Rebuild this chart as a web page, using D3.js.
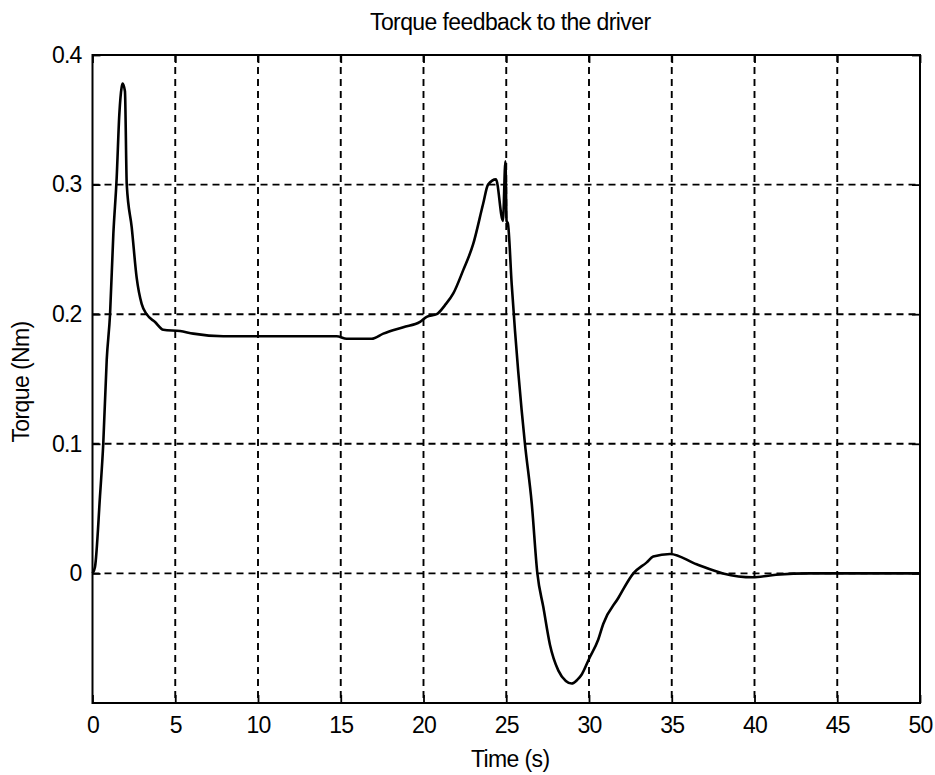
<!DOCTYPE html>
<html lang="en">
  <head>
    <meta charset="utf-8">
    <title>Torque feedback to the driver</title>
    <script src="https://cdn.jsdelivr.net/npm/d3@7"></script>
    <style>
      body { margin: 0; background: #fff; }
      svg text { font-family: "Liberation Sans", Arial, sans-serif; fill: #000; }
    </style>
  </head>
  <body>
    <div id="chart"></div>
    <script>

// values
var timeS = [0, 0.15, 0.45, 0.65, 0.86, 1.06, 1.26, 1.46, 1.62, 1.76, 1.82, 1.96,
  2.07, 2.37, 2.67, 2.97, 3.27, 3.78, 4.28, 5.29, 6.09, 7.9, 9.92, 14.75, 15.36,
  16.87, 17.57, 18.78, 19.79, 20.19, 20.8, 21.3, 21.8, 22.4, 23.0, 23.6, 23.9,
  24.38, 24.8, 24.95, 25.02, 25.1, 25.33, 25.53, 25.93, 26.13, 26.54, 26.88,
  27.24, 27.64, 28.15, 28.6, 28.95, 29.3, 29.56, 30.0, 30.56, 30.86, 31.77,
  32.68, 33.49, 33.88, 34.9, 36.5, 38.1, 39.9, 41.3, 43.4, 50];
var torqueNm = [0, 0.005, 0.059, 0.1, 0.165, 0.2, 0.262, 0.305, 0.354, 0.375, 0.378, 0.372,
  0.3, 0.267, 0.228, 0.208, 0.2, 0.194, 0.188, 0.187, 0.185, 0.183, 0.183, 0.183, 0.181,
  0.181, 0.185, 0.19, 0.194, 0.198, 0.2, 0.207, 0.216, 0.234, 0.254, 0.285, 0.3,
  0.304, 0.272, 0.318, 0.272, 0.27, 0.223, 0.187, 0.126, 0.1, 0.054, 0,
  -0.026, -0.055, -0.075, -0.083, -0.085, -0.082, -0.078, -0.066, -0.051, -0.039, -0.019,
  0, 0.0085, 0.013, 0.015, 0.007, 0, -0.003, -0.001, 0, 0];

var xTicks = [0, 5, 10, 15, 20, 25, 30, 35, 40, 45, 50];
var yTicks = [0, 0.1, 0.2, 0.3, 0.4];
var yGrid = [0, 0.1, 0.2, 0.3];
var xGrid = [5, 10, 15, 20, 25, 30, 35, 40, 45];

var width = 935, height = 775;
var plot = {left: 92.5, right: 920, top: 55, bottom: 703};

var svg = d3.select("#chart").append("svg")
    .attr("width", width)
    .attr("height", height);

svg.append("rect")
    .attr("width", width)
    .attr("height", height)
    .style("fill", "#fff");

var x = d3.scaleLinear()
    .domain([0, 50])
    .range([plot.left, plot.right]);

var y = d3.scaleLinear()
    .domain([-0.1, 0.4])
    .range([plot.bottom, plot.top]);

// dashed grid
svg.append("g").selectAll("line")
    .data(xGrid)
    .enter().append("line")
    .attr("x1", function(d) { return x(d); })
    .attr("x2", function(d) { return x(d); })
    .attr("y1", plot.top)
    .attr("y2", plot.bottom)
    .style("stroke", "#000")
    .style("stroke-width", 1.9)
    .style("stroke-dasharray", "7,5");

svg.append("g").selectAll("line")
    .data(yGrid)
    .enter().append("line")
    .attr("x1", plot.left)
    .attr("x2", plot.right)
    .attr("y1", function(d) { return y(d); })
    .attr("y2", function(d) { return y(d); })
    .style("stroke", "#000")
    .style("stroke-width", 1.9)
    .style("stroke-dasharray", "7,5");

// axes (inward ticks)
var xAxis = d3.axisBottom(x).tickValues(xTicks).tickSize(-8).tickPadding(14)
    .tickFormat(d3.format("d"));
var yAxis = d3.axisLeft(y).tickValues(yTicks).tickSize(-8).tickPadding(11)
    .tickFormat(function(d) { return d === 0 ? "0" : d3.format(".1f")(d); });

var gx = svg.append("g")
    .attr("transform", "translate(0," + plot.bottom + ")")
    .call(xAxis);
var gy = svg.append("g")
    .attr("transform", "translate(" + plot.left + ",0)")
    .call(yAxis);

[gx, gy].forEach(function(g) {
  g.select(".domain").remove();
  g.selectAll(".tick line").style("stroke", "#000").style("stroke-width", 1.8);
  g.selectAll(".tick text")
    .style("font-size", "23px")
    .style("letter-spacing", "-0.8px");
});

svg.append("g")
    .attr("transform", "translate(0," + plot.top + ")")
    .call(d3.axisTop(x).tickValues(xTicks).tickSize(-8).tickFormat(""))
    .call(function(g) { g.select(".domain").remove(); g.selectAll("line").style("stroke-width", 1.8); });
svg.append("g")
    .attr("transform", "translate(" + plot.right + ",0)")
    .call(d3.axisRight(y).tickValues(yTicks).tickSize(-8).tickFormat(""))
    .call(function(g) { g.select(".domain").remove(); g.selectAll("line").style("stroke-width", 1.8); });

// frame
svg.append("rect")
    .attr("x", plot.left)
    .attr("y", plot.top)
    .attr("width", plot.right - plot.left)
    .attr("height", plot.bottom - plot.top)
    .style("fill", "none")
    .style("stroke", "#000")
    .style("stroke-width", 2);

// curve
var points = timeS.map(function(t, i) { return [t, torqueNm[i]]; });
var line = d3.line()
    .x(function(d) { return x(d[0]); })
    .y(function(d) { return y(d[1]); })
    .curve(d3.curveMonotoneX);

svg.append("path")
    .datum(points)
    .attr("d", line)
    .style("fill", "none")
    .style("stroke", "#000")
    .style("stroke-width", 2.6)
    .style("stroke-linejoin", "round");

// labels
svg.append("text")
    .attr("x", (plot.left + plot.right) / 2 + 4)
    .attr("y", 30)
    .attr("text-anchor", "middle")
    .style("font-size", "23px")
    .style("letter-spacing", "-0.6px")
    .text("Torque feedback to the driver");

svg.append("text")
    .attr("x", (plot.left + plot.right) / 2 + 4)
    .attr("y", 767)
    .attr("text-anchor", "middle")
    .style("font-size", "23px")
    .style("letter-spacing", "-0.6px")
    .text("Time (s)");

svg.append("text")
    .attr("transform", "translate(29," + ((plot.top + plot.bottom) / 2 + 3) + ") rotate(-90)")
    .attr("text-anchor", "middle")
    .style("font-size", "23px")
    .style("letter-spacing", "-0.6px")
    .text("Torque (Nm)");

    </script>
  </body>
</html>
